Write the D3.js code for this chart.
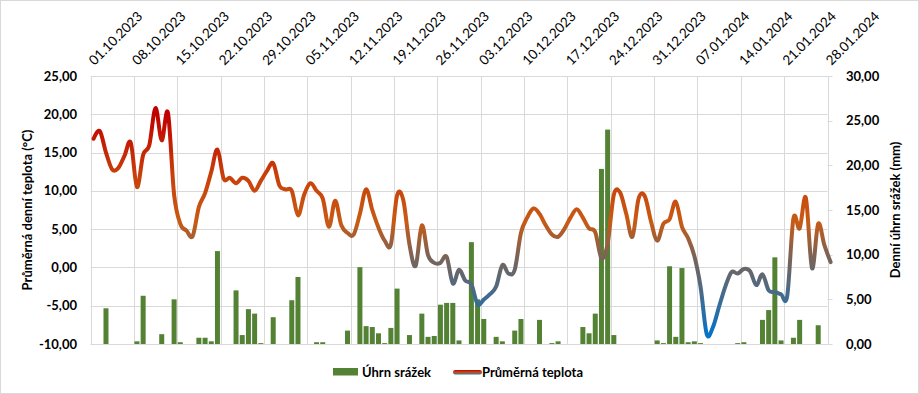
<!DOCTYPE html>
<html>
<head>
<meta charset="utf-8">
<script src="https://cdn.jsdelivr.net/npm/d3@7"></script>
<style>
  body { margin: 0; background: #fff; }
  svg { font-family: Lato, "Open Sans", sans-serif; }
  .grid line { stroke: #d9d9d9; stroke-width: 1; }
  .tick-lbl { font-size: 13px; font-weight: 700; fill: #000; }
  .date-lbl { font-size: 13.5px; fill: #000; }
  .ttl { font-size: 13px; font-weight: 700; fill: #000; }
</style>
</head>
<body>
<script>
(function(){
    //daily values, 01.10.2023 .. 28.01.2024 (120 days)
    var startDay = "2023-10-01";
    var endDay = "2024-01-28";

    //average daily temperature (°C), one per day
    var temperature = [
        16.8, 17.8, 15.0, 12.8, 13.0, 14.6, 16.3, 10.5, 14.7, 16.0,
        20.8, 16.6, 20.2, 9.5, 5.7, 4.8, 4.1, 7.9, 9.7, 12.5,
        15.4, 11.6, 11.7, 11.0, 11.7, 11.3, 10.0, 11.3, 12.6, 13.6,
        10.7, 10.2, 10.0, 6.8, 9.5, 11.0, 10.0, 9.0, 5.3, 8.7,
        5.5, 4.5, 4.3, 7.0, 10.2, 7.5, 5.2, 3.5, 3.0, 9.4,
        8.8, 3.0, 0.2, 5.5, 1.6, 0.6, 0.6, 1.4, -2.1, -0.3,
        -1.7, -2.2, -4.8, -4.2, -3.5, -2.5, 0.3, -0.8, -0.3, 4.5,
        6.5, 7.7, 7.0, 5.5, 4.3, 4.0, 5.0, 6.5, 7.6, 6.5,
        5.1, 4.6, 1.2, 3.1, 9.5, 9.8, 7.0, 4.0, 9.0, 9.3,
        6.0, 3.5, 5.7, 6.3, 8.6, 5.3, 3.8, 1.5, -2.5, -8.7,
        -7.8, -5.1, -2.5, -0.6, -0.8, -0.2, -0.5, -2.3, -0.9, -3.0,
        -3.2, -3.5, -3.7, 6.4, 5.1, 9.1, -0.1, 5.7, 2.9, 0.7
    ];

    //daily precipitation (mm), one per day
    var precipitation = [
        0, 0, 4.0, 0, 0, 0, 0, 0.3, 5.4, 0,
        0, 1.1, 0, 5.0, 0.2, 0, 0, 0.7, 0.7, 0.3,
        10.4, 0, 0, 6.0, 1.0, 3.9, 3.4, 0.1, 0, 3.0,
        0, 0, 4.9, 7.5, 0, 0, 0.2, 0.2, 0, 0,
        0, 1.5, 0, 8.6, 2.0, 1.9, 1.2, 0.1, 1.8, 6.2,
        0, 1.0, 0, 3.4, 0.8, 0.9, 4.4, 4.6, 4.6, 0.4,
        0, 11.4, 5.0, 2.8, 0, 0.8, 0.3, 0, 1.5, 2.8,
        0, 0, 2.7, 0, 0.1, 0.3, 0, 0, 0, 1.9,
        1.2, 3.4, 19.6, 24.0, 1.0, 0, 0, 0, 0, 0,
        0, 0.4, 0.1, 8.7, 0.8, 8.5, 0.2, 0.3, 0.1, 0,
        0, 0, 0, 0, 0.1, 0.2, 0, 0, 2.7, 3.8,
        9.7, 0.4, 0, 0.7, 2.7, 0, 0, 2.1, 0, 0
    ];

    var tempTicks = [-10, -5, 0, 5, 10, 15, 20, 25];
    var precTicks = [0, 5, 10, 15, 20, 25, 30];

    var seriesNames = ["Úhrn srážek", "Průměrná teplota"];
    var leftTitle = "Průměrná denní teplota (°C)";
    var rightTitle = "Denní úhrn srážek (mm)";

    var width = 919, height = 394;
    var left = 90.5, right = 827.5, top = 76, bottom = 344;

    var parse = d3.timeParse("%Y-%m-%d");
    var fmt = d3.timeFormat("%d.%m.%Y");
    var d0 = parse(startDay), d1 = parse(endDay);
    var days = d3.timeDay.range(d0, d3.timeDay.offset(d0, temperature.length));
    var weekTicks = d3.timeDay.range(d0, d3.timeDay.offset(d1, 1), 7);

    var x = d3.scaleTime().domain([d0, d1]).range([left, right]);
    var dayW = x(d3.timeDay.offset(d0, 1)) - x(d0);
    var cx = function(i){ return x(days[i]) + dayW * 0.5; }; //points sit mid-day
    var yT = d3.scaleLinear().domain([-10, 25]).range([bottom, top]);
    var yP = d3.scaleLinear().domain([0, 30]).range([bottom, top]);

    var svg = d3.select("body").append("svg")
        .attr("width", width).attr("height", height);

    //chart border
    svg.append("rect")
        .attr("x", 0.5).attr("y", 0.5)
        .attr("width", width - 1).attr("height", height - 1)
        .attr("fill", "#fff").attr("stroke", "#d9d9d9");

    //gridlines
    var grid = svg.append("g").attr("class", "grid");
    grid.selectAll(".h").data(tempTicks).enter().append("line")
        .attr("x1", left).attr("x2", right)
        .attr("y1", function(d){ return Math.round(yT(d)) + 0.5; })
        .attr("y2", function(d){ return Math.round(yT(d)) + 0.5; });
    grid.selectAll(".v").data(weekTicks).enter().append("line")
        .attr("x1", function(d){ return Math.round(x(d)) + 0.5; })
        .attr("x2", function(d){ return Math.round(x(d)) + 0.5; })
        .attr("y1", top).attr("y2", bottom);
    //right axis ticks
    grid.selectAll(".rt").data(precTicks).enter().append("line")
        .attr("x1", right).attr("x2", right + 5)
        .attr("y1", function(d){ return Math.round(yP(d)) + 0.5; })
        .attr("y2", function(d){ return Math.round(yP(d)) + 0.5; });

    //left axis labels
    svg.append("g").selectAll("text").data(tempTicks).enter().append("text")
        .attr("class", "tick-lbl")
        .attr("x", 77).attr("y", function(d){ return yT(d); })
        .attr("dy", "0.35em").attr("text-anchor", "end")
        .text(function(d){ return d3.format(".2f")(d).replace(".", ",").replace("−", "-"); });

    //right axis labels
    svg.append("g").selectAll("text").data(precTicks).enter().append("text")
        .attr("class", "tick-lbl")
        .attr("x", 846).attr("y", function(d){ return yP(d); })
        .attr("dy", "0.35em").attr("text-anchor", "start")
        .text(function(d){ return d3.format(".2f")(d).replace(".", ","); });

    //date labels on top, rotated
    svg.append("g").selectAll("text").data(weekTicks).enter().append("text")
        .attr("class", "date-lbl")
        .attr("transform", function(d){ return "translate(" + (x(d) + 4) + ",66) rotate(-45)"; })
        .text(function(d){ return fmt(d); });

    //axis titles
    svg.append("text").attr("class", "ttl")
        .attr("transform", "translate(32," + ((top + bottom) / 2) + ") rotate(-90)")
        .attr("text-anchor", "middle")
        .text(leftTitle);
    svg.append("text").attr("class", "ttl")
        .attr("transform", "translate(900," + ((top + bottom) / 2) + ") rotate(-90)")
        .attr("text-anchor", "middle")
        .text(rightTitle);

    //precipitation bars
    var barW = 5;
    svg.append("g").selectAll("rect")
        .data(precipitation.map(function(v, i){ return { i: i, v: v }; })
            .filter(function(d){ return d.v > 0; }))
        .enter().append("rect")
        .attr("x", function(d){ return cx(d.i) - barW / 2; })
        .attr("y", function(d){ return yP(d.v); })
        .attr("width", barW)
        .attr("height", function(d){ return yP(0) - yP(d.v); })
        .attr("fill", "#548235");

    //temperature gradient (colour follows the value)
    var stops = [
        { t: 20, c: "#c00000" },
        { t: 12, c: "#c8400a" },
        { t: 6, c: "#c85a14" },
        { t: 1.5, c: "#7c6356" },
        { t: -3, c: "#4b6a86" },
        { t: -8.5, c: "#0872c4" }
    ];
    var defs = svg.append("defs");
    var g1 = defs.append("linearGradient").attr("id", "tempGrad")
        .attr("gradientUnits", "userSpaceOnUse")
        .attr("x1", 0).attr("x2", 0)
        .attr("y1", yT(stops[0].t)).attr("y2", yT(stops[stops.length - 1].t));
    var span = yT(stops[stops.length - 1].t) - yT(stops[0].t);
    stops.forEach(function(s){
        g1.append("stop")
            .attr("offset", (yT(s.t) - yT(stops[0].t)) / span)
            .attr("stop-color", s.c);
    });

    var line = d3.line()
        .x(function(d, i){ return cx(i); })
        .y(function(d){ return yT(d); })
        .curve(d3.curveCardinal.tension(0));

    svg.append("path")
        .datum(temperature)
        .attr("d", line)
        .attr("fill", "none")
        .attr("stroke", "url(#tempGrad)")
        .attr("stroke-width", 4)
        .attr("stroke-linejoin", "round")
        .attr("stroke-linecap", "round");

    //legend
    var lg = svg.append("g");
    lg.append("rect").attr("x", 333).attr("y", 368).attr("width", 25).attr("height", 7.5)
        .attr("fill", "#548235");
    lg.append("text").attr("class", "ttl").attr("x", 362).attr("y", 377).text(seriesNames[0]);
    var g2 = defs.append("linearGradient").attr("id", "legGrad")
        .attr("x1", 0).attr("x2", 0).attr("y1", 0).attr("y2", 1);
    g2.append("stop").attr("offset", 0).attr("stop-color", "#c00000");
    g2.append("stop").attr("offset", 0.5).attr("stop-color", "#c8500e");
    g2.append("stop").attr("offset", 1).attr("stop-color", "#2e75b6");
    lg.append("rect").attr("x", 453).attr("y", 370).attr("width", 29).attr("height", 4.5)
        .attr("rx", 2.2).attr("fill", "url(#legGrad)");
    lg.append("text").attr("class", "ttl").attr("x", 482).attr("y", 377).text(seriesNames[1]);
})();
</script>
</body>
</html>
